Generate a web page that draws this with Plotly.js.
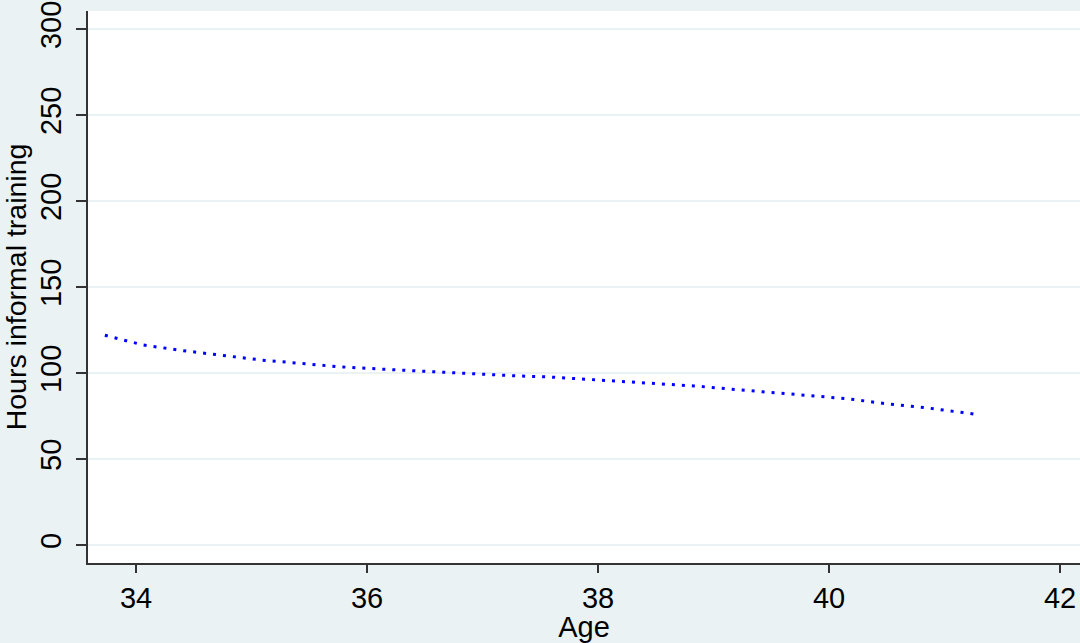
<!DOCTYPE html>
<html>
<head>
<meta charset="utf-8">
<script src="https://cdn.plot.ly/plotly-3.0.1.min.js"></script>
<style>html,body{margin:0;padding:0;background:#eaf2f3;}#chart{width:1080px;height:643px;}</style>
</head>
<body>
<div id="chart"></div>
<script>
// Data (age vs. hours of informal training)
const age = [33.73, 34.06, 34.41, 34.76, 35.08, 35.41, 35.74, 36.26, 36.57, 36.92, 37.24, 37.58, 37.83, 38.16, 38.50, 38.83, 39.16, 39.50, 39.85, 40.17, 40.50, 40.83, 41.16, 41.26];
const hours = [122.1, 116.4, 113.1, 110.1, 107.7, 105.8, 103.8, 101.9, 100.9, 99.4, 98.6, 97.8, 96.8, 95.7, 94.2, 92.6, 90.7, 88.9, 87.0, 85.1, 82.2, 80.0, 77.1, 76.2];
const xTicks = [34, 36, 38, 40, 42];
const yTicks = [0, 50, 100, 150, 200, 250, 300];

const font = "Liberation Sans, Arial, sans-serif";
const trace = {
  x: age, y: hours, type: 'scatter', mode: 'lines',
  line: {color: '#0000ff', width: 3, dash: '3px,7px'},
  hoverinfo: 'skip'
};
const layout = {
  width: 1080, height: 643,
  paper_bgcolor: '#eaf2f3', plot_bgcolor: '#ffffff',
  margin: {l: 88, r: 0, t: 11, b: 80},
  showlegend: false,
  font: {family: font, color: '#000000', size: 29},
  xaxis: {
    range: [33.584, 42.173], tickvals: xTicks, ticktext: xTicks.map(String),
    showgrid: false, zeroline: false,
    showline: true, linecolor: '#333333', linewidth: 2,
    ticks: 'outside', ticklen: 8, tickwidth: 1.5, tickcolor: '#333333',
    tickfont: {family: font, size: 29, color: '#000'},
    title: {text: 'Age', font: {family: font, size: 29, color: '#000'}, standoff: 0}
  },
  yaxis: {
    range: [-10.35, 310.6], tickvals: yTicks, ticktext: yTicks.map(String),
    showgrid: true, gridcolor: '#eaf2f3', gridwidth: 2, zeroline: false,
    showline: true, linecolor: '#333333', linewidth: 2,
    ticks: 'outside', ticklen: 10, tickwidth: 1.5, tickcolor: '#333333',
    tickangle: -90, ticklabelstandoff: 3,
    tickfont: {family: font, size: 29, color: '#000'},
    title: {text: 'Hours informal training', font: {family: font, size: 28.5, color: '#000'}, standoff: 1}
  }
};
Plotly.newPlot('chart', [trace], layout, {staticPlot: true, displayModeBar: false});
</script>
</body>
</html>
